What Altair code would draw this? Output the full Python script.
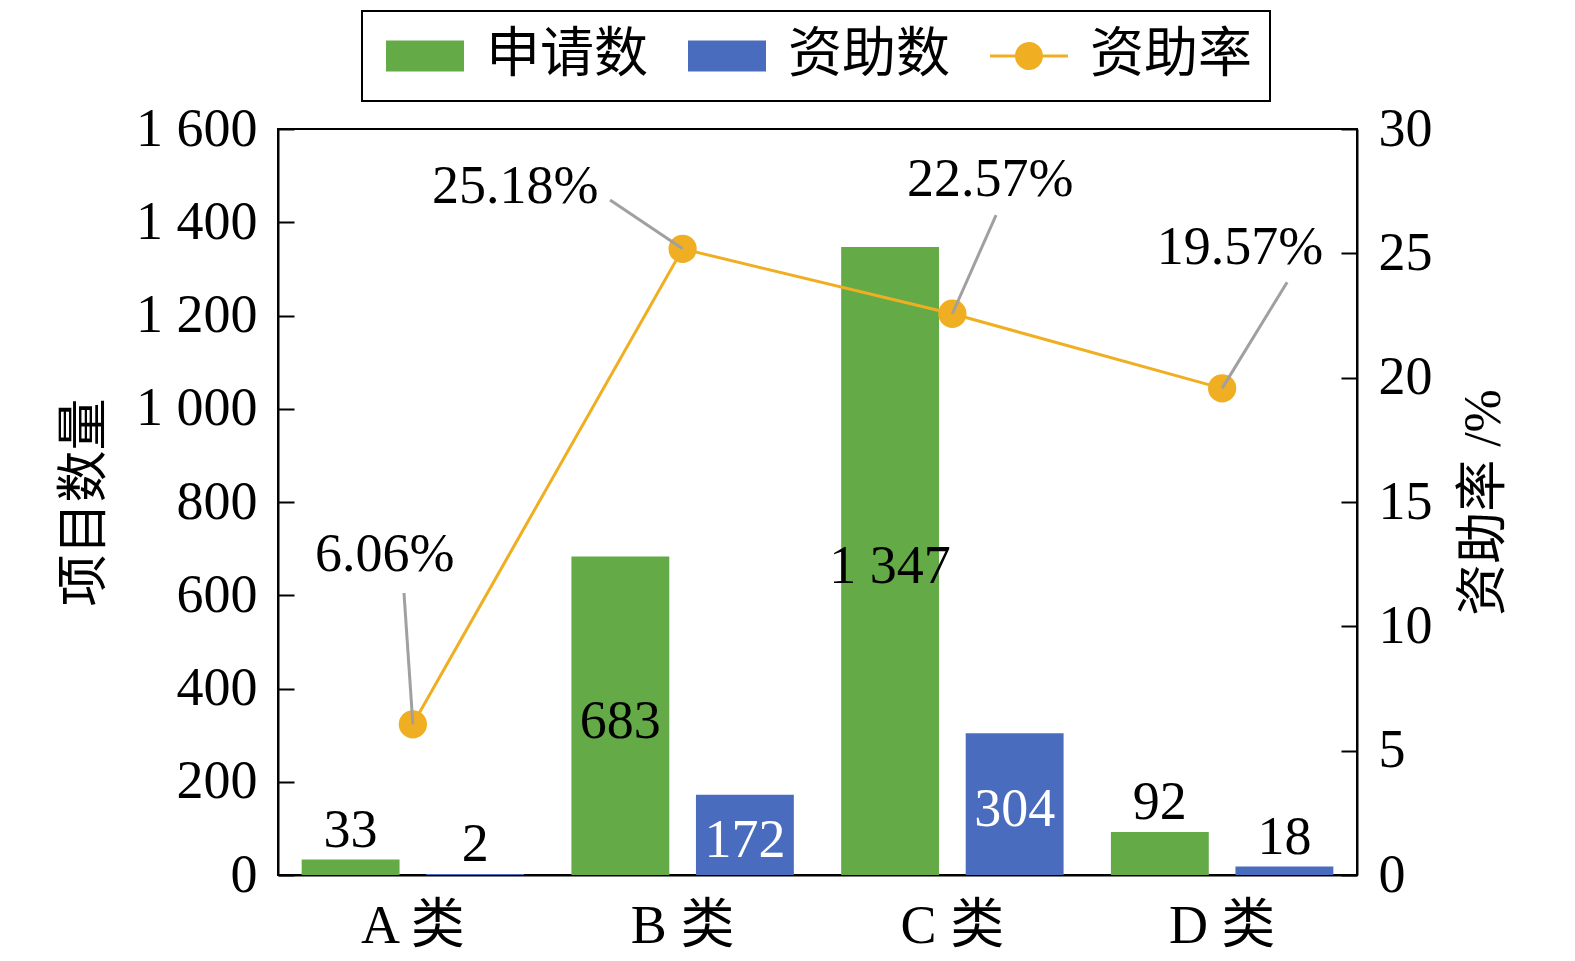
import altair as alt
import pandas as pd

# ---------------- data ----------------
categories = ["A 类", "B 类", "C 类", "D 类"]
applications = [33, 683, 1347, 92]        # 申请数
funded = [2, 172, 304, 18]                 # 资助数
funding_rate = [6.06, 25.18, 22.57, 19.57]  # 资助率 (%)

series_names = ["申请数", "资助数", "资助率"]

# ---------------- styling / annotation layout ----------------
series_colors = ["#64AB48", "#4A6CBE", "#F0AE22"]
ORANGE = series_colors[2]
LEADER = "#A0A0A0"
FONT = "Liberation Serif, Noto Sans CJK SC"
CJK = "Noto Sans CJK SC"
FS = 54
# rate annotation anchors in data units (category position, rate %)
ANNOT = {
    "lx": [0.396, 0.879, 2.640, 3.566],
    "ly": [12.87, 27.66, 27.95, 25.21],
    "ex": [0.467, 1.231, 2.662, 3.741],
    "ey": [11.34, 27.14, 26.54, 23.84],
}
RECT = "M-1.95,-0.78H1.95V0.78H-1.95Z"
LINEDOT = ("M-1.95,-0.08H1.95V0.08H-1.95Z "
           "M0.7,0A0.7,0.7,0,1,1,-0.7,0A0.7,0.7,0,1,1,0.7,0Z")

bars_df = pd.DataFrame({
    "cat": categories * 2,
    "series": [series_names[0]] * 4 + [series_names[1]] * 4,
    "value": applications + funded,
})
rate_df = pd.DataFrame({
    "cat": categories,
    "idx": list(range(len(categories))),
    "rate": funding_rate,
    **ANNOT,
})
legend_df = pd.DataFrame({"series": series_names, "v": [0, 0, 0]})

color_scale = alt.Scale(domain=series_names, range=series_colors)
legend_obj = alt.Legend(
    title=None, orient="none", legendX=84, legendY=-118,
    direction="horizontal", strokeColor="black", padding=18,
    labelFont=CJK, labelFontSize=54, labelColor="black", labelLimit=0,
    symbolSize=1600, symbolOffset=18, labelOffset=34, columnPadding=34,
    symbolStrokeWidth=0, symbolOpacity=1,
)

# ---------------- bars (left axis) ----------------
x_band = alt.X(
    "cat:N", sort=categories,
    scale=alt.Scale(paddingInner=0, paddingOuter=0),
    axis=alt.Axis(title=None, labelAngle=0, ticks=False, labelFont=FONT,
                  labelFontSize=FS, labelColor="black", labelPadding=24,
                  domainColor="black", domainWidth=2),
)
x_off = alt.XOffset(
    "series:N", sort=series_names[:2],
    scale=alt.Scale(domain=series_names[:2], paddingInner=0.214, paddingOuter=0.19),
)
left_axis = alt.Axis(
    values=list(range(0, 1601, 200)), format=",d",
    labelExpr="replace(datum.label, ',', ' ')",
    title="项目数量", titleFont=CJK, titleFontSize=52, titleFontWeight="normal",
    titleColor="black", titlePadding=24,
    labelFont=FONT, labelFontSize=FS, labelColor="black", labelPadding=21,
    ticks=False, grid=True, gridColor="black", gridWidth=2, gridDash=[16, 4000],
    domainColor="black", domainWidth=2,
)
count_scale = alt.Scale(domain=[0, 1600], nice=False)

bars = alt.Chart(bars_df).mark_bar().encode(
    x=x_band, xOffset=x_off,
    y=alt.Y("value:Q", scale=count_scale, axis=left_axis),
    color=alt.Color("series:N", scale=color_scale, legend=legend_obj),
)
txt_in = alt.Chart(bars_df).transform_filter("datum.value >= 150").transform_calculate(
    mid="datum.value / 2",
    lab="replace(format(datum.value, ',d'), ',', ' ')",
).mark_text(font=FONT, fontSize=FS, baseline="middle", dy=6).encode(
    x=x_band, xOffset=x_off,
    y=alt.Y("mid:Q", scale=count_scale, axis=left_axis),
    text="lab:N",
    color=alt.condition("datum.series == '资助数'", alt.value("white"), alt.value("black")),
)
txt_out = alt.Chart(bars_df).transform_filter("datum.value < 150").transform_calculate(
    lab="replace(format(datum.value, ',d'), ',', ' ')",
).mark_text(font=FONT, fontSize=FS, baseline="bottom", dy=-2, color="black").encode(
    x=x_band, xOffset=x_off,
    y=alt.Y("value:Q", scale=count_scale, axis=left_axis),
    text="lab:N",
)
bar_group = alt.layer(bars, txt_in, txt_out)

# ---------------- rate (right axis) ----------------
pos_scale = alt.Scale(domain=[0, 4], nice=False, zero=False)
rate_scale = alt.Scale(domain=[0, 30], nice=False)
right_axis = alt.Axis(
    orient="right", values=list(range(0, 31, 5)),
    title="资助率 /%", titleFont=FONT, titleFontSize=52, titleFontWeight="normal",
    titleColor="black", titleAngle=270, titleBaseline="top", titlePadding=26,
    labelFont=FONT, labelFontSize=FS, labelColor="black", labelPadding=21,
    ticks=False, grid=True, gridColor="black", gridWidth=2, gridDash=[16, 4000],
    domainColor="black", domainWidth=2,
)

base = alt.Chart(rate_df).transform_calculate(
    pos="datum.idx + 0.5",
    lab="format(datum.rate, '.2f') + '%'",
)
line = base.mark_line(color=ORANGE, strokeWidth=3).encode(
    x=alt.X("pos:Q", scale=pos_scale, axis=None),
    y=alt.Y("rate:Q", scale=rate_scale, axis=right_axis),
)
pts = base.mark_circle(color=ORANGE, size=800, opacity=1).encode(
    x=alt.X("pos:Q", scale=pos_scale, axis=None),
    y=alt.Y("rate:Q", scale=rate_scale, axis=right_axis),
)
leaders = base.mark_rule(color=LEADER, strokeWidth=3).encode(
    x=alt.X("pos:Q", scale=pos_scale, axis=None),
    y=alt.Y("rate:Q", scale=rate_scale, axis=right_axis),
    x2="ex:Q", y2="ey:Q",
)
rate_labels = base.mark_text(font=FONT, fontSize=FS, baseline="middle",
                             align="center", color="black").encode(
    x=alt.X("lx:Q", scale=pos_scale, axis=None),
    y=alt.Y("ly:Q", scale=rate_scale, axis=right_axis),
    text="lab:N",
)
legend_layer = alt.Chart(legend_df).transform_filter("false").mark_point(filled=True).encode(
    x=alt.X("v:Q", scale=pos_scale, axis=None),
    y=alt.Y("v:Q", scale=rate_scale, axis=right_axis),
    color=alt.Color("series:N", scale=color_scale, legend=legend_obj),
    shape=alt.Shape("series:N",
                    scale=alt.Scale(domain=series_names, range=[RECT, RECT, LINEDOT]),
                    legend=legend_obj),
)
rate_group = alt.layer(line, pts, leaders, rate_labels, legend_layer)

chart = alt.layer(bar_group, rate_group).resolve_scale(
    x="independent", y="independent"
).properties(
    width=1079, height=746,
    autosize=alt.AutoSizeParams(type="none"),
    padding={"left": 270, "top": 121, "right": 200, "bottom": 78},
).configure(
    font=FONT
).configure_view(
    stroke="black", strokeWidth=2
).configure_legend(
    strokeWidth=2
)

chart.save("out.html", embed_options={"renderer": "svg", "actions": False})
